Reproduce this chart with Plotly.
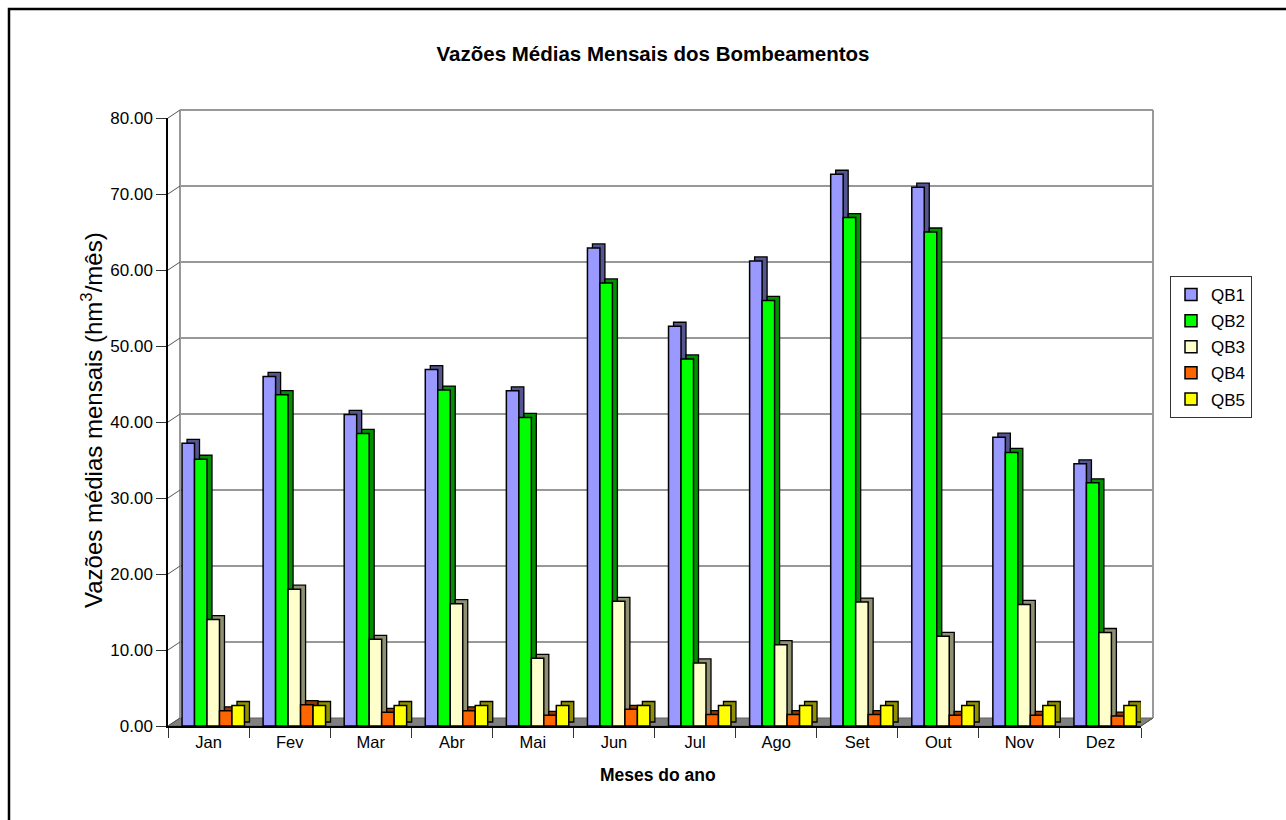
import plotly.graph_objects as go

months = ["Jan", "Fev", "Mar", "Abr", "Mai", "Jun", "Jul", "Ago", "Set", "Out", "Nov", "Dez"]
qb1 = [37.2, 46.0, 41.0, 46.9, 44.1, 62.9, 52.6, 61.2, 72.6, 70.9, 38.0, 34.5]
qb2 = [35.1, 43.6, 38.5, 44.2, 40.6, 58.3, 48.3, 56.0, 66.9, 65.0, 36.0, 32.0]
qb3 = [14.0, 18.0, 11.4, 16.1, 8.9, 16.4, 8.3, 10.7, 16.3, 11.8, 16.0, 12.3]
qb4 = [2.0, 2.8, 1.8, 2.0, 1.4, 2.2, 1.5, 1.5, 1.5, 1.4, 1.4, 1.3]
qb5 = [2.7, 2.7, 2.7, 2.7, 2.7, 2.7, 2.7, 2.7, 2.7, 2.7, 2.7, 2.7]
series_names = ["QB1", "QB2", "QB3", "QB4", "QB5"]
series_values = [qb1, qb2, qb3, qb4, qb5]
y_ticks = [0, 10, 20, 30, 40, 50, 60, 70, 80]
y_tick_labels = ["0.00", "10.00", "20.00", "30.00", "40.00", "50.00", "60.00", "70.00", "80.00"]

front_colors = ["#9999FF", "#00FF00", "#FFFFCC", "#FF6600", "#FFFF00"]
side_colors = ["#55558F", "#009000", "#8F8F72", "#8F3900", "#8F8F00"]

FONT = "Arial, Liberation Sans, sans-serif"
W, H = 1286, 820
L, R, T, B = 168, 145, 118, 94
PW, PH = W - L - R, H - T - B
YMAX = 80.0
DEPTH_X, DEPTH_Y = 12, 8          # back wall offset (px)
BAR_DX, BAR_DY = 5, 4             # bar depth offset (px)


def px(x):
    return (x - L) / PW


def py(y):
    return (H - B - y) / PH


cat_px = PW / len(months)
bar_w = 0.154
bar_start = -0.327
ddx = BAR_DX / cat_px
ddy = BAR_DY * YMAX / PH

fig = go.Figure()
for i, (name, vals) in enumerate(zip(series_names, series_values)):
    off = bar_start + i * bar_w
    fig.add_trace(go.Bar(
        x=months, y=vals, base=ddy, offset=off + ddx, width=bar_w,
        marker=dict(color=side_colors[i], line=dict(color="black", width=1.3)),
        showlegend=False, hoverinfo="skip", legendgroup=name,
    ))
    fig.add_trace(go.Bar(
        x=months, y=vals, name=name, offset=off, width=bar_w,
        marker=dict(color=front_colors[i], line=dict(color="black", width=1.5)),
        legendgroup=name,
    ))

shapes = []
# floor
fx0, fx1 = px(L), px(L + PW)
bx0, bx1 = px(L + DEPTH_X), px(L + PW + DEPTH_X)
fy = py(H - B)
byy = py(H - B - DEPTH_Y)
shapes.append(dict(type="path", xref="paper", yref="paper", layer="below",
                   path=f"M {fx0} {fy} L {fx1} {fy} L {bx1} {byy} L {bx0} {byy} Z",
                   fillcolor="#808080", line=dict(color="#606060", width=1)))
# back wall gridlines
for v in y_ticks[1:-1]:
    yy = v / YMAX + DEPTH_Y / PH
    shapes.append(dict(type="line", xref="paper", yref="paper", layer="below",
                       x0=bx0, x1=bx1, y0=yy, y1=yy, line=dict(color="#333333", width=1.2)))
# back wall borders
ytop = 1 + DEPTH_Y / PH
shapes.append(dict(type="line", xref="paper", yref="paper", layer="below",
                   x0=bx0, x1=bx1, y0=ytop, y1=ytop, line=dict(color="#999999", width=2)))
shapes.append(dict(type="line", xref="paper", yref="paper", layer="below",
                   x0=bx0, x1=bx0, y0=byy, y1=ytop, line=dict(color="#999999", width=2)))
shapes.append(dict(type="line", xref="paper", yref="paper", layer="below",
                   x0=bx1, x1=bx1, y0=byy, y1=ytop, line=dict(color="#999999", width=2)))
# diagonal connectors on left wall
for v in y_ticks:
    y0 = v / YMAX
    shapes.append(dict(type="line", xref="paper", yref="paper", layer="below",
                       x0=fx0, x1=bx0, y0=y0, y1=y0 + DEPTH_Y / PH,
                       line=dict(color="#555555", width=1)))
# floor right diagonal
shapes.append(dict(type="line", xref="paper", yref="paper", layer="below",
                   x0=fx1, x1=bx1, y0=fy, y1=byy, line=dict(color="#555555", width=1)))
# outer chart border (left and top visible)
shapes.append(dict(type="path", xref="paper", yref="paper", layer="above",
                   path=f"M {px(9)} {py(H + 20)} L {px(9)} {py(9)} L {px(W + 20)} {py(9)}",
                   line=dict(color="black", width=2.5)))

fig.update_layout(
    width=W, height=H,
    margin=dict(l=L, r=R, t=T, b=B, pad=0),
    paper_bgcolor="white", plot_bgcolor="white",
    barmode="overlay",
    font=dict(family=FONT, color="black", size=16),
    title=dict(text="<b>Vazões Médias Mensais dos Bombeamentos</b>",
               x=653 / W, xanchor="center", y=1 - 54 / H, yanchor="middle",
               font=dict(size=20.5, family=FONT, color="black")),
    xaxis=dict(type="category", categoryorder="array", categoryarray=months,
               range=[-0.5, len(months) - 0.5], showgrid=False,
               showline=True, linecolor="black", linewidth=1.5,
               ticks="outside", tickson="boundaries", ticklen=10, tickcolor="#333333",
               tickfont=dict(size=16.5, family=FONT), fixedrange=True),
    yaxis=dict(range=[0, YMAX], tickvals=y_ticks, ticktext=y_tick_labels,
               showgrid=False, zeroline=False,
               showline=True, linecolor="black", linewidth=1.5,
               ticks="outside", ticklen=10, tickcolor="#333333",
               tickfont=dict(size=17, family=FONT), fixedrange=True),
    legend=dict(x=px(1170), y=py(276), xanchor="left", yanchor="top",
                bordercolor="#333333", borderwidth=1, bgcolor="white",
                font=dict(size=17, family=FONT), tracegroupgap=1,
                itemwidth=30, traceorder="grouped"),
    shapes=shapes,
    annotations=[
        dict(text="Vazões médias mensais (hm<sup>3</sup>/mês)", xref="paper", yref="paper",
             x=px(92), y=py(420), xanchor="center", yanchor="middle", textangle=-90,
             showarrow=False, font=dict(size=24, family=FONT, color="black")),
        dict(text="<b>Meses do ano</b>", xref="paper", yref="paper",
             x=px(658), y=py(775), xanchor="center", yanchor="middle",
             showarrow=False, font=dict(size=17.5, family=FONT, color="black")),
    ],
)

fig.write_html("out.html")
